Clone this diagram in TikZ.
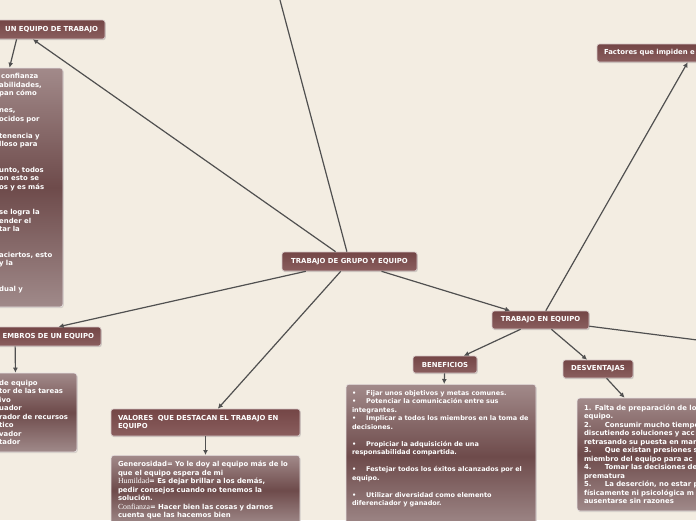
\documentclass[tikz,border=0pt]{standalone}
\usepackage{fontspec}
\setmainfont{DejaVu Sans}
\newfontfamily\serifword{Liberation Serif}
\usetikzlibrary{positioning,arrows.meta,shadows}

\definecolor{paper}{HTML}{F3EDE2}
\definecolor{headtop}{HTML}{744646}
\definecolor{headbot}{HTML}{8A5E5E}
\definecolor{boxtop}{HTML}{A28A8A}
\definecolor{boxmid}{HTML}{6E4B4B}
\definecolor{boxbot}{HTML}{A08A8A}
\definecolor{linkcol}{HTML}{505050}

\newcommand{\bnfitem}{\textbullet\hspace{10pt}}
\newcommand{\desitem}[1]{#1\hspace{13.5pt}}
\newcommand{\valword}[1]{{\serifword\mdseries\fontsize{7.8}{8.5}\selectfont #1}}

\begin{document}
\begin{tikzpicture}[
  x=1pt, y=-1pt,
  >={Latex[length=5pt,width=5pt]},
  every node/.style={text=white, font=\fontsize{6.9}{8.5}\selectfont\bfseries},
  head/.style={draw=white!70!headtop, line width=0.6pt, rounded corners=2.5pt, top color=headtop, bottom color=headbot, inner xsep=7pt, inner ysep=2pt, drop shadow={shadow xshift=0.8pt, shadow yshift=-1.2pt, opacity=0.3}},
  txtbox/.style={draw=white!75!boxtop, line width=0.6pt, rounded corners=3pt, top color=boxtop, bottom color=boxbot, middle color=boxmid, inner xsep=7pt, inner ysep=6pt, drop shadow={shadow xshift=0.8pt, shadow yshift=-1.2pt, opacity=0.25}},
  plain/.style={inner sep=0pt, align=left},
  link/.style={draw=linkcol, line width=1.2pt, ->}
]
\useasboundingbox (0,0) rectangle (696,520);
\fill[paper] (0,0) rectangle (696,520);
\clip (0,0) rectangle (696,520);

% --- Centre ---
\node[head, minimum width=135pt, minimum height=19pt] (grupo) at (349.5,261.5) {TRABAJO DE GRUPO Y EQUIPO};
\coordinate (arriba) at (276,-15);

% --- Left branch: team features ---
\node[head, minimum width=172pt, minimum height=19pt, text width=158pt, align=right] (caract) at (19,29.5) {UN EQUIPO DE TRABAJO};
\node[txtbox, minimum width=166pt, minimum height=239pt] (caracbox) at (-20,187.5) {};
\node[plain, anchor=west, text width=70pt] (caractxt) at (-1,183) {\hspace*{2pt}confianza\\abilidades,\\pan cómo\\~\\nes,\\ocidos por\\~\\tenencia y\\lloso para\\~\\~\\unto, todos\\on esto se\\os y es más\\~\\~\\se logra la\\ender el\\tar la\\~\\~\\aciertos, esto\\y la\\~\\~\\dual y};

% --- Left branch: team members ---
\node[head, minimum width=172pt, minimum height=19pt, text width=158pt, align=right] (miembros) at (15,336.5) {EMBROS DE UN EQUIPO};
\node[txtbox, minimum width=122pt, minimum height=79pt] (miembbox) at (16,412.5) {};
\node[plain, anchor=west, text width=90pt] (miembtxt) at (-1,412.5) {de equipo\\tor de las tareas\\ivo\\uador\\rador de recursos\\tico\\vador\\tador};

% --- Bottom branch: values ---
\node[head, minimum width=189pt, minimum height=27pt, text width=175pt, align=left] (valores) at (205.5,422.5) {VALORES\ \ QUE DESTACAN EL TRABAJO EN\\EQUIPO};
\node[txtbox, minimum width=189pt, text width=175pt, align=left, anchor=north] (valbox) at (205.5,455) {Generosidad= Yo le doy al equipo más de lo\\que el equipo espera de mi\\\valword{Humildad}= Es dejar brillar a los demás,\\pedir consejos cuando no tenemos la\\solución.\\\valword{Confianza}= Hacer bien las cosas y darnos\\cuenta que las hacemos bien};

% --- Right branch: teamwork ---
\node[head, minimum width=97pt, minimum height=18pt] (equipo) at (540.5,320) {TRABAJO EN EQUIPO};
\node[head, minimum width=192pt, minimum height=18pt, text width=178pt, align=left] (factores) at (693,53) {Factores que impiden e};
\coordinate (derecha) at (760,348);

\node[head, minimum width=64pt, minimum height=17pt] (benef) at (445,364.5) {BENEFICIOS};
\node[txtbox, minimum width=190pt, text width=178pt, inner xsep=6pt, align=left, anchor=north, font=\fontsize{6.5}{8.5}\selectfont\bfseries] (benefbox) at (441,384) {\bnfitem Fijar unos objetivos y metas comunes.\\\bnfitem Potenciar la comunicación entre sus\\integrantes.\\\bnfitem Implicar a todos los miembros en la toma de\\decisiones.\\~\\\bnfitem Propiciar la adquisición de una\\responsabilidad compartida.\\~\\\bnfitem Festejar todos los éxitos alcanzados por el\\equipo.\\~\\\bnfitem Utilizar diversidad como elemento\\diferenciador y ganador.\\~\\~};

\node[head, minimum width=70pt, minimum height=18pt] (desv) at (598,369) {DESVENTAJAS};
\node[txtbox, minimum width=200pt, minimum height=113pt, text width=186pt, align=left] (desvbox) at (677,454.5) {1. Falta de preparación de lo\\equipo.\\\desitem{2.}Consumir mucho tiempo\\discutiendo soluciones y acc\\retrasando su puesta en mar\\\desitem{3.}Que existan presiones s\\miembro del equipo para ac\\\desitem{4.}Tomar las decisiones de\\prematura\\\desitem{5.}La deserción, no estar p\\físicamente ni psicológica m\\ausentarse sin razones};

% --- Connectors ---
\draw[link] (grupo) -- (caract);
\draw[link] (grupo) -- (miembros);
\draw[link] (grupo) -- (valores);
\draw[link] (grupo) -- (equipo);
\draw[link] (grupo) -- (arriba);
\draw[link] (caract) -- (caracbox);
\draw[link] (miembros) -- (miembbox);
\draw[link] (valores) -- (valbox);
\draw[link] (equipo) -- (factores);
\draw[link] (equipo) -- (derecha);
\draw[link] (equipo) -- (benef);
\draw[link] (equipo) -- (desv);
\draw[link] (benef) -- (benefbox);
\draw[link] (desv) -- (desvbox);

\end{tikzpicture}
\end{document}
